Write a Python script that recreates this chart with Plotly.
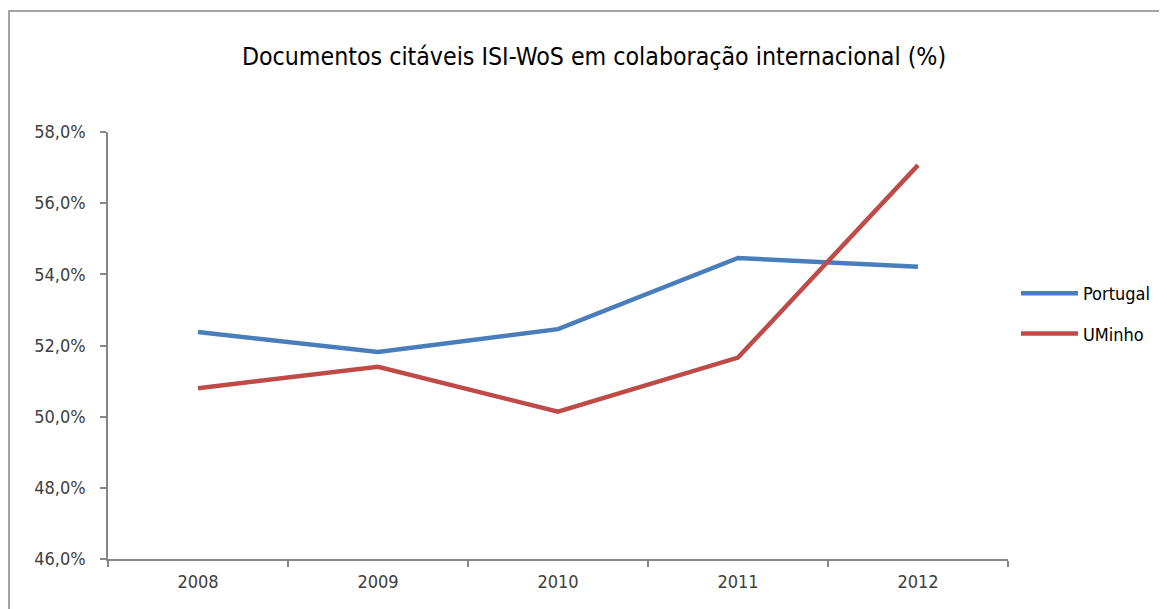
import plotly.graph_objects as go

years = ["2008", "2009", "2010", "2011", "2012"]
portugal = [52.38, 51.82, 52.46, 54.46, 54.21]
uminho = [50.80, 51.40, 50.14, 51.66, 57.07]
y_ticks = [46, 48, 50, 52, 54, 56, 58]
y_labels = ["46,0%", "48,0%", "50,0%", "52,0%", "54,0%", "56,0%", "58,0%"]

FONT = "Liberation Sans Narrow, DejaVu Sans Condensed, Arial Narrow, sans-serif"
# page body has an 8px margin, so figure coords = screenshot coords - 8
W, H = 1167, 609
L, T = 100, 124
PR, PB = 1000, 551
R, B = W - PR, H - PB
pw, ph = PR - L, PB - T

fig = go.Figure()
fig.add_trace(go.Scatter(x=years, y=portugal, mode="lines", name="Portugal",
                         legendgroup="a",
                         line=dict(color="#4A7EBB", width=4.5)))
fig.add_trace(go.Scatter(x=years, y=uminho, mode="lines", name="UMinho",
                         legendgroup="b",
                         line=dict(color="#BE4B48", width=4.5)))

fig.update_layout(
    width=W, height=H,
    margin=dict(l=L, r=R, t=T, b=B),
    paper_bgcolor="white", plot_bgcolor="white",
    font=dict(family=FONT, color="#404040", size=18),
    title=dict(text="Documentos citáveis ISI-WoS em colaboração internacional (%)",
               x=586 / W, xanchor="center", y=1 - 48 / H, yanchor="middle",
               font=dict(family=FONT, size=24.7, color="black")),
    showlegend=True,
    legend=dict(x=(1008 - L) / pw, xanchor="left", y=(PB - 267) / ph, yanchor="top",
                font=dict(family=FONT, size=18, color="black"),
                bgcolor="rgba(0,0,0,0)", itemwidth=57, tracegroupgap=14),
    xaxis=dict(type="category", showgrid=False, showline=True, linecolor="#868686",
               linewidth=1.5, ticks="outside", tickson="boundaries", ticklen=6,
               tickcolor="#868686", tickwidth=1.5, range=[-0.5, 4.5],
               ticklabelstandoff=6,
               tickfont=dict(size=18, color="#404040")),
    yaxis=dict(range=[46, 58], tickvals=y_ticks, ticktext=y_labels, showgrid=False,
               showline=True, linecolor="#868686", linewidth=1.5, ticks="outside",
               ticklen=6, tickcolor="#868686", tickwidth=1.5, zeroline=False,
               ticklabelstandoff=11,
               tickfont=dict(size=18, color="#404040")),
)

# outer chart border
fig.add_shape(type="rect", xref="paper", yref="paper",
              x0=(1 - L) / pw, x1=(W + 20 - L) / pw,
              y0=(PB - (H + 20)) / ph, y1=(PB - 3) / ph,
              line=dict(color="#868686", width=1.5), fillcolor="rgba(0,0,0,0)", layer="below")

fig.write_html("out.html")
